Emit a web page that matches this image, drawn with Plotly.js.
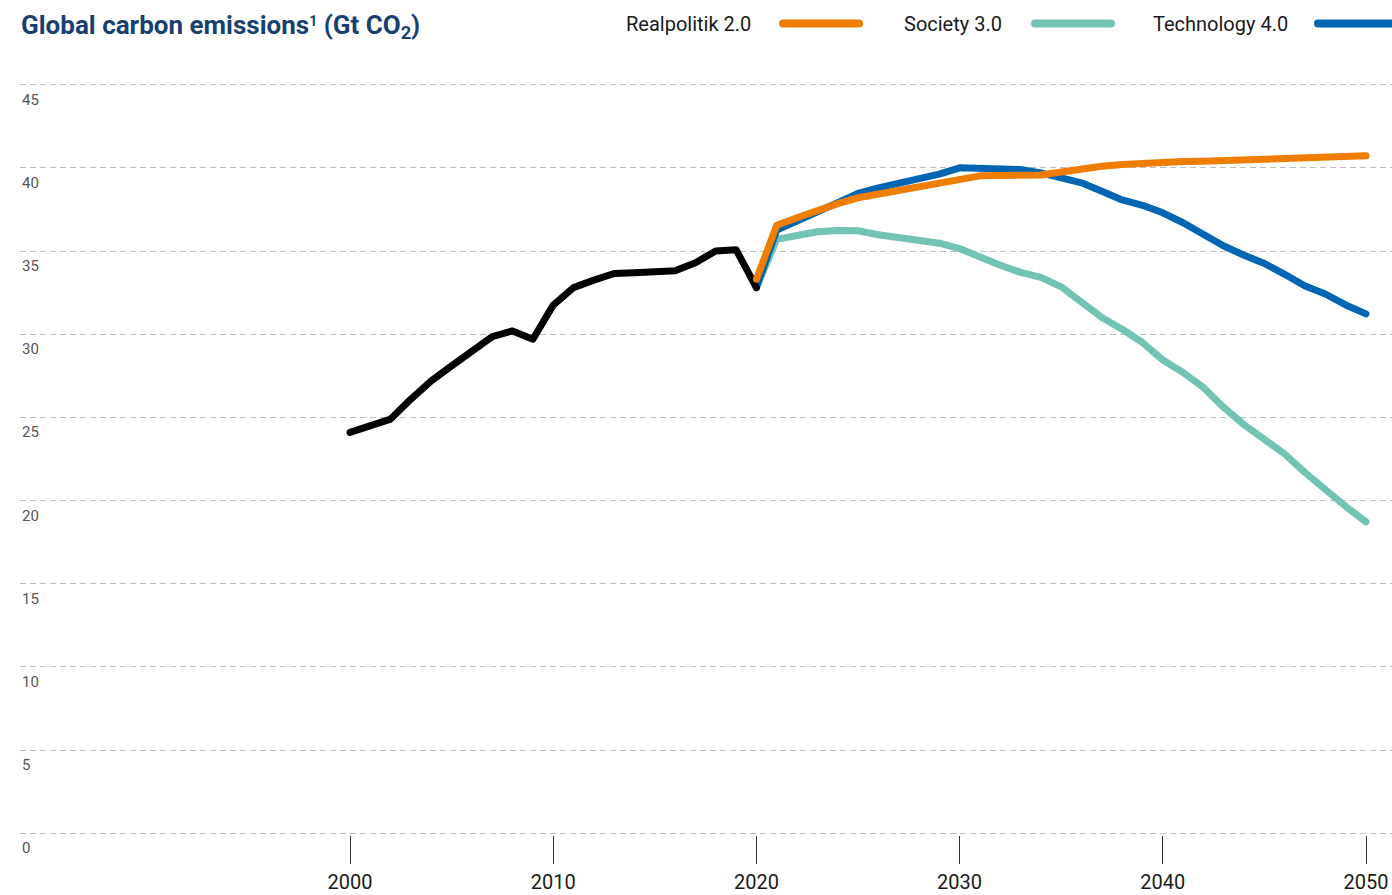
<!DOCTYPE html>
<html>
<head>
<meta charset="utf-8">
<script src="https://cdn.plot.ly/plotly-3.0.1.min.js"></script>
<style>
    html, body { margin: 0; padding: 0; background: #fff; }
    #plotDiv { width: 1392px; height: 895px; }
    /* rounded ends like the original lines */
    #plotDiv .js-line, #plotDiv .shapelayer path { stroke-linecap: round; stroke-linejoin: round; }
</style>
</head>
<body>
<div id="plotDiv"></div>
<script>
// Historical emissions (Gt CO2)
const histYears = [2000, 2001, 2002, 2003, 2004, 2005, 2006, 2007, 2008, 2009, 2010,
                   2011, 2012, 2013, 2014, 2015, 2016, 2017, 2018, 2019, 2020];
const histValues = [24.1, 24.5, 24.9, 26.1, 27.2, 28.1, 29.0, 29.85, 30.2, 29.7, 31.75,
                    32.8, 33.25, 33.65, 33.7, 33.78, 33.82, 34.3, 35.0, 35.08, 32.8];

// Scenario years
const scenYears = [2020, 2021, 2022, 2023, 2024, 2025, 2026, 2027, 2028, 2029, 2030,
                   2031, 2032, 2033, 2034, 2035, 2036, 2037, 2038, 2039, 2040,
                   2041, 2042, 2043, 2044, 2045, 2046, 2047, 2048, 2049, 2050];

const realpolitik = [33.3, 36.55, 37.0, 37.45, 37.85, 38.2, 38.42, 38.7, 38.95, 39.17, 39.4,
                     39.52, 39.54, 39.55, 39.57, 39.75, 39.95, 40.1, 40.2, 40.28, 40.36,
                     40.38, 40.4, 40.44, 40.48, 40.52, 40.56, 40.6, 40.64, 40.68, 40.72];
const society = [32.8, 35.7, 35.93, 36.16, 36.24, 36.22, 35.98, 35.8, 35.64, 35.47, 35.15,
                 34.6, 34.15, 33.72, 33.42, 32.85, 31.93, 31.0, 30.3, 29.5, 28.45,
                 27.7, 26.8, 25.6, 24.56, 23.65, 22.8, 21.68, 20.6, 19.65, 18.72];
const technology = [32.8, 36.26, 36.8, 37.35, 37.9, 38.46, 38.8, 39.05, 39.3, 39.62, 40.0,
                    39.98, 39.96, 39.9, 39.7, 39.45, 39.1, 38.6, 38.07, 37.75, 37.3,
                    36.7, 36.0, 35.3, 34.75, 34.25, 33.6, 32.9, 32.42, 31.76, 31.22];

const scenarioNames = ['Realpolitik 2.0', 'Society 3.0', 'Technology 4.0'];
const scenarioColors = ['#ef7d00', '#72c3b4', '#0066b3'];
const histColor = '#000000';

const yTicks = [0, 5, 10, 15, 20, 25, 30, 35, 40, 45];
const xTicks = [2000, 2010, 2020, 2030, 2040, 2050];

const FONT = 'Roboto, "Open Sans", sans-serif';

// plot area in pixels (used for the hand made legend)
const yMin = -0.1, yMax = 45.1;
const pxPerUnit = (833 - 85) / 45;
const plotLeft = 20, plotRight = 1392;
const plotTop = 85 - (yMax - 45) * pxPerUnit;
const plotBottom = 833 + (0 - yMin) * pxPerUnit;
function paperX(px) { return (px - plotLeft) / (plotRight - plotLeft); }
function paperY(py) { return (plotBottom - py) / (plotBottom - plotTop); }

function createPlot() {
    const lineWidth = 7;

    const traceSociety = {
        x: scenYears, y: society, mode: 'lines', name: scenarioNames[1],
        line: {color: scenarioColors[1], width: lineWidth}
    };
    const traceTech = {
        x: scenYears, y: technology, mode: 'lines', name: scenarioNames[2],
        line: {color: scenarioColors[2], width: lineWidth}
    };
    const traceHist = {
        x: histYears, y: histValues, mode: 'lines', name: 'Historical',
        line: {color: histColor, width: lineWidth}
    };
    const traceReal = {
        x: scenYears, y: realpolitik, mode: 'lines', name: scenarioNames[0],
        line: {color: scenarioColors[0], width: lineWidth}
    };

    // Legend: text then swatch, to the right of the text
    const legendTextRight = [753, 1004, 1290];
    const swatchStart = [783, 1035, 1318];
    const swatchLen = 76;
    const legendY = 24;

    const annotations = [{
        xref: 'paper', yref: 'paper',
        x: paperX(19), y: paperY(27),
        xanchor: 'left', yanchor: 'middle',
        text: 'Global carbon emissions<span style="font-size:20px"><sup>1</sup></span> (Gt CO<sub>2</sub>)',
        showarrow: false,
        font: {family: FONT, size: 26, color: '#183f72', weight: 'bold'}
    }];
    const shapes = [];

    scenarioNames.forEach((name, i) => {
        annotations.push({
            xref: 'paper', yref: 'paper',
            x: paperX(legendTextRight[i]), y: paperY(legendY),
            xanchor: 'right', yanchor: 'middle',
            text: name, showarrow: false,
            font: {family: FONT, size: 20, color: '#1a1a1a'}
        });
        shapes.push({
            type: 'line', xref: 'paper', yref: 'paper',
            x0: paperX(swatchStart[i]), x1: paperX(swatchStart[i] + swatchLen),
            y0: paperY(legendY), y1: paperY(legendY),
            line: {color: scenarioColors[i], width: 8}
        });
    });

    // y tick labels sit just under their grid line, at the left edge
    yTicks.forEach(v => {
        annotations.push({
            xref: 'paper', yref: 'y',
            x: 0, y: v,
            xanchor: 'left', yanchor: 'middle',
            yshift: -15,
            text: String(v), showarrow: false,
            font: {family: FONT, size: 15, color: '#555555'}
        });
    });

    const pxPerYear = (1366 - 350) / 50;
    const layout = {
        width: 1392,
        height: 895,
        margin: {l: plotLeft, r: 1392 - plotRight, t: plotTop, b: 895 - plotBottom},
        paper_bgcolor: '#ffffff',
        plot_bgcolor: '#ffffff',
        showlegend: false,
        hovermode: false,
        font: {family: FONT},
        xaxis: {
            range: [2000 - (350 - plotLeft) / pxPerYear, 2050 + (plotRight - 1366) / pxPerYear],
            tickmode: 'array',
            tickvals: xTicks,
            ticktext: xTicks.map(String),
            ticks: 'outside',
            ticklen: 28,
            tickwidth: 1,
            tickcolor: '#333333',
            ticklabelstandoff: 1,
            showgrid: false,
            zeroline: false,
            showline: false,
            tickfont: {family: FONT, size: 20, color: '#1a1a1a'}
        },
        yaxis: {
            range: [yMin, yMax],
            tickmode: 'array',
            tickvals: yTicks,
            ticks: '',
            showticklabels: false,
            showgrid: true,
            gridcolor: '#bdbdbd',
            gridwidth: 1,
            griddash: '6px,4px',
            zeroline: false,
            showline: false
        },
        annotations: annotations,
        shapes: shapes
    };

    Plotly.newPlot('plotDiv', [traceSociety, traceTech, traceHist, traceReal], layout,
                   {staticPlot: true, displayModeBar: false});
}

document.addEventListener('DOMContentLoaded', createPlot);
</script>
</body>
</html>
